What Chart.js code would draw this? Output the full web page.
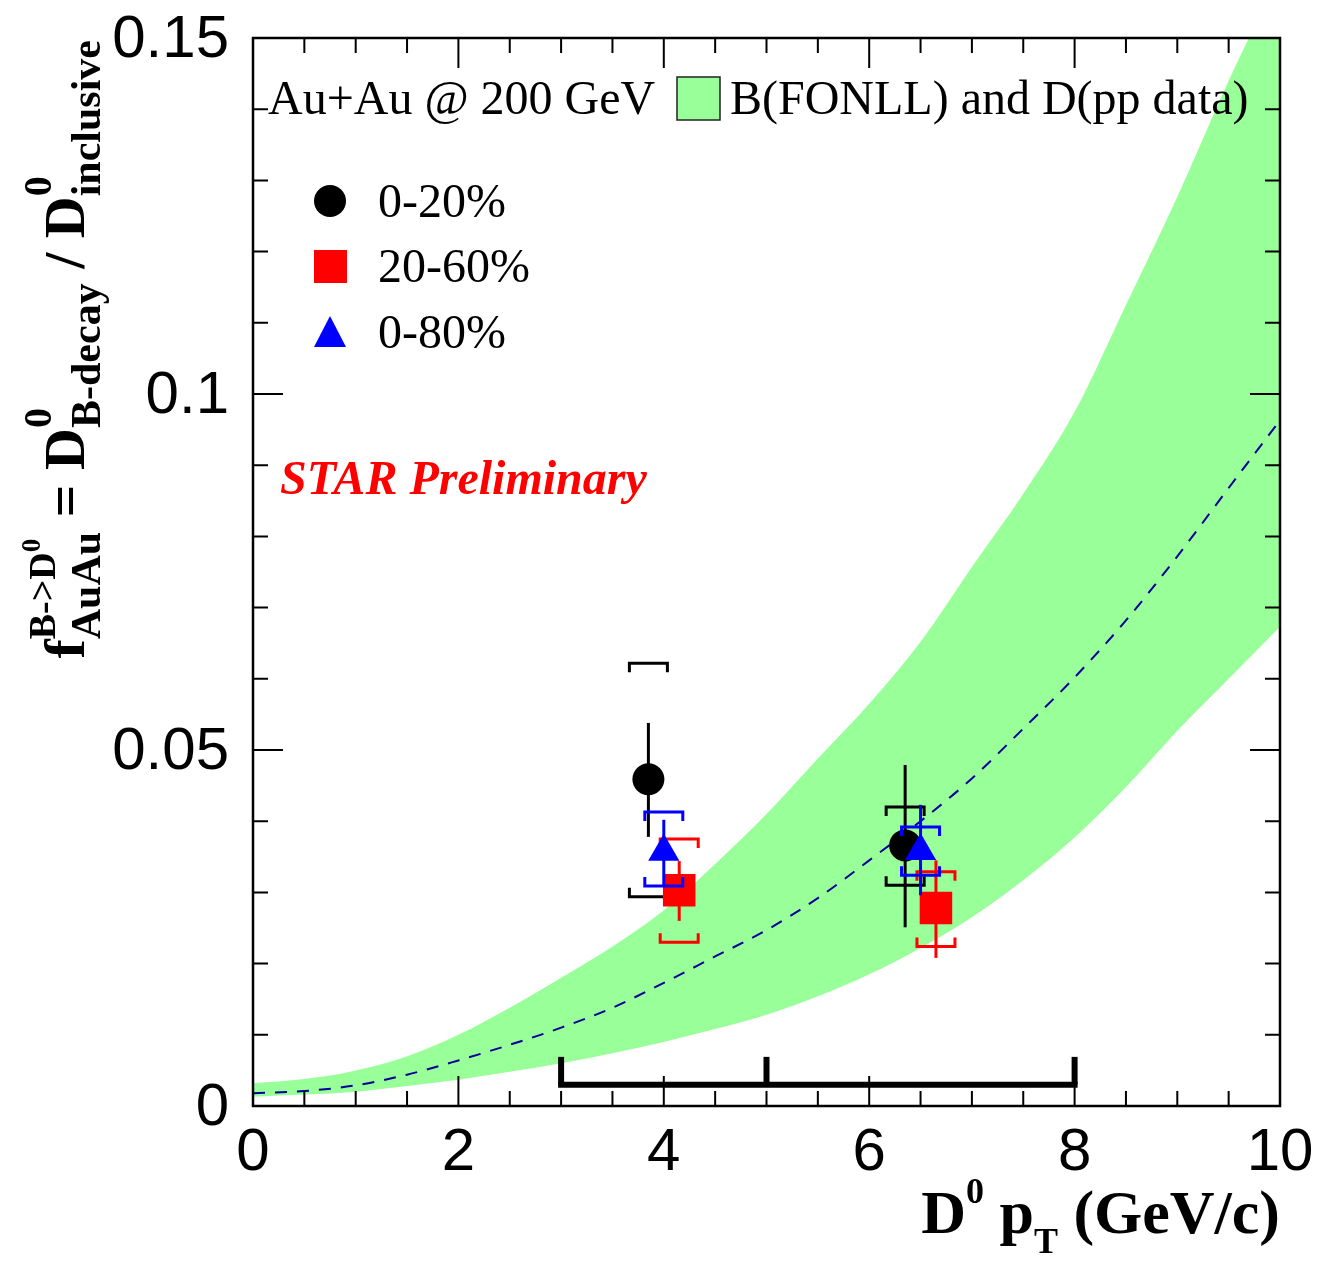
<!DOCTYPE html>
<html>
<head>
<meta charset="utf-8">
<script src="https://cdn.jsdelivr.net/npm/chart.js@4.4.1/dist/chart.umd.min.js"></script>
<style>
  html, body { margin: 0; padding: 0; background: #fff; }
  #wrap { width: 1320px; height: 1262px; }
</style>
</head>
<body>
<div id="wrap"><canvas id="chart" width="1320" height="1262"></canvas></div>
<script>
// FONLL band (B feed-down fraction)
const bandPt = [0, 0.5, 1, 1.5, 2, 2.5, 3, 3.5, 4, 4.5, 5, 5.5, 6, 6.5, 7, 7.5, 8, 8.5, 9, 9.5, 10];
const bandUpper = [0.0032, 0.0038, 0.0050, 0.0070, 0.0100, 0.0138, 0.0180, 0.0224, 0.0275, 0.0340, 0.0410, 0.0488,
  0.0565, 0.0652, 0.0757, 0.0860, 0.0975, 0.1125, 0.1277, 0.1440, 0.1590];
const bandLower = [0.0013, 0.0016, 0.0020, 0.0028, 0.0037, 0.0048, 0.0060, 0.0074, 0.0090, 0.0108, 0.0128, 0.0154,
  0.0185, 0.0222, 0.0265, 0.0317, 0.0377, 0.0448, 0.0527, 0.0600, 0.0673];
const bandCentral = [0.0018, 0.0021, 0.0029, 0.0044, 0.0064, 0.0086, 0.0110, 0.0138, 0.0173, 0.0210, 0.0247, 0.0292,
  0.0345, 0.0400, 0.0460, 0.0530, 0.0602, 0.0682, 0.0772, 0.0868, 0.0963];

// measured points
const c020X = [3.85, 6.35];
const c020Y = [0.0459, 0.0366];
const c020StatLo = [0.0378, 0.0251];
const c020StatHi = [0.0538, 0.0479];
const c020SysLo = [0.0294, 0.0310];
const c020SysHi = [0.0622, 0.0420];

const c2060X = [4.15, 6.65];
const c2060Y = [0.0303, 0.0278];
const c2060StatLo = [0.0260, 0.0208];
const c2060StatHi = [0.0344, 0.0345];
const c2060SysLo = [0.0230, 0.0224];
const c2060SysHi = [0.0375, 0.0329];

const c080X = [4.0, 6.5];
const c080Y = [0.0357, 0.0358];
const c080StatLo = [0.0310, 0.0296];
const c080StatHi = [0.0402, 0.0423];
const c080SysLo = [0.0309, 0.0324];
const c080SysHi = [0.0413, 0.0392];

// pT bins shown at the bottom
const binEdges = [3, 5, 8];
const binBarY = 0.0030;
const binTickTop = 0.0069;

const xTickLabels = [0, 2, 4, 6, 8, 10];
const yTickLabels = [0, 0.05, 0.1, 0.15];
const yTickText = ['0', '0.05', '0.1', '0.15'];

const legendLabels = ['0-20%', '20-60%', '0-80%'];

const SERIF = '"Liberation Serif", "Times New Roman", serif';
const SANS = '"Liberation Sans", Arial, sans-serif';

function toXY(xs, ys) {
  return xs.map((x, i) => ({ x: x, y: ys[i] }));
}

const errors = {
  3: { color: '#000000', x: c020X, sLo: c020StatLo, sHi: c020StatHi, yLo: c020SysLo, yHi: c020SysHi },
  4: { color: '#ff0000', x: c2060X, sLo: c2060StatLo, sHi: c2060StatHi, yLo: c2060SysLo, yHi: c2060SysHi },
  5: { color: '#0000ff', x: c080X, sLo: c080StatLo, sHi: c080StatHi, yLo: c080SysLo, yHi: c080SysHi }
};

// rich text: parts {t, s, dy, style, mark, rewind}
function runRich(ctx, parts, x, y, draw) {
  let cx = x, mark = x;
  parts.forEach(p => {
    ctx.font = (p.style || 'bold') + ' ' + p.s + 'px ' + SERIF;
    const w = ctx.measureText(p.t).width;
    if (p.rewind) {
      const end = cx;
      if (draw) ctx.fillText(p.t, mark, y + (p.dy || 0));
      cx = Math.max(end, mark + w);
      return;
    }
    if (p.mark) mark = cx;
    if (draw) ctx.fillText(p.t, cx, y + (p.dy || 0));
    cx += w;
  });
  return cx - x;
}

const errorBars = {
  id: 'errorBars',
  beforeDatasetDraw(chart, args) {
    const e = errors[args.index];
    if (!e) return;
    const ctx = chart.ctx, xs = chart.scales.x, ys = chart.scales.y;
    ctx.save();
    ctx.strokeStyle = e.color;
    ctx.lineWidth = 3;
    e.x.forEach((xv, i) => {
      const px = xs.getPixelForValue(xv);
      // statistical
      ctx.beginPath();
      ctx.moveTo(px, ys.getPixelForValue(e.sLo[i]));
      ctx.lineTo(px, ys.getPixelForValue(e.sHi[i]));
      ctx.stroke();
      // systematic brackets
      const hw = 19, leg = 9;
      const yt = ys.getPixelForValue(e.yHi[i]);
      const yb = ys.getPixelForValue(e.yLo[i]);
      ctx.beginPath();
      ctx.moveTo(px - hw, yt + leg); ctx.lineTo(px - hw, yt); ctx.lineTo(px + hw, yt); ctx.lineTo(px + hw, yt + leg);
      ctx.moveTo(px - hw, yb - leg); ctx.lineTo(px - hw, yb); ctx.lineTo(px + hw, yb); ctx.lineTo(px + hw, yb - leg);
      ctx.stroke();
    });
    ctx.restore();
  }
};

const decorations = {
  id: 'decorations',
  afterDatasetsDraw(chart) {
    const ctx = chart.ctx, xs = chart.scales.x, ys = chart.scales.y;
    const { left, right, top, bottom } = chart.chartArea;
    ctx.save();

    // bin bar
    ctx.strokeStyle = '#000';
    ctx.lineWidth = 6;
    ctx.lineCap = 'butt';
    const by = ys.getPixelForValue(binBarY);
    ctx.beginPath();
    ctx.moveTo(xs.getPixelForValue(binEdges[0]) - 3, by);
    ctx.lineTo(xs.getPixelForValue(binEdges[binEdges.length - 1]) + 3, by);
    ctx.stroke();
    binEdges.forEach(b => {
      ctx.beginPath();
      ctx.moveTo(xs.getPixelForValue(b), by);
      ctx.lineTo(xs.getPixelForValue(b), ys.getPixelForValue(binTickTop));
      ctx.stroke();
    });

    // ticks
    ctx.lineWidth = 2;
    ctx.beginPath();
    for (let i = 0; i <= 20; i++) {
      const v = i * 0.5;
      const px = xs.getPixelForValue(v);
      const len = (i % 4 === 0) ? 30 : 15;
      ctx.moveTo(px, bottom); ctx.lineTo(px, bottom - len);
      ctx.moveTo(px, top); ctx.lineTo(px, top + len);
    }
    for (let i = 0; i <= 15; i++) {
      const v = i * 0.01;
      const py = ys.getPixelForValue(v);
      const len = (i % 5 === 0) ? 30 : 15;
      ctx.moveTo(left, py); ctx.lineTo(left + len, py);
      ctx.moveTo(right, py); ctx.lineTo(right - len, py);
    }
    ctx.stroke();

    // frame
    ctx.lineWidth = 2.5;
    ctx.strokeRect(left, top, right - left, bottom - top);

    // tick labels
    ctx.fillStyle = '#000';
    ctx.font = '60px ' + SANS;
    ctx.textAlign = 'center';
    ctx.textBaseline = 'top';
    xTickLabels.forEach(v => ctx.fillText(String(v), xs.getPixelForValue(v), bottom + 17));
    ctx.textAlign = 'right';
    ctx.textBaseline = 'middle';
    yTickLabels.forEach((v, i) => ctx.fillText(yTickText[i], left - 24, ys.getPixelForValue(v) + 2));

    ctx.textAlign = 'left';
    ctx.textBaseline = 'alphabetic';

    // x title
    const xParts = [
      { t: 'D', s: 62 }, { t: '0', s: 36, dy: -30 }, { t: ' p', s: 62 }, { t: 'T', s: 36, dy: 20 },
      { t: ' (GeV/c)', s: 62 }
    ];
    const xw = runRich(ctx, xParts, 0, 0, false);
    runRich(ctx, xParts, right - xw, 1233, true);

    // y title
    const yParts = [
      { t: 'f', s: 58 },
      { t: 'B->D', s: 38, dy: -29, mark: true }, { t: '0', s: 27, dy: -44 },
      { t: 'AuAu', s: 42, dy: 16, rewind: true },
      { t: ' = ', s: 58 },
      { t: 'D', s: 58 }, { t: '0', s: 40, dy: -33, mark: true }, { t: 'B-decay', s: 42, dy: 16, rewind: true },
      { t: ' / ', s: 58 },
      { t: 'D', s: 58 }, { t: '0', s: 40, dy: -33, mark: true }, { t: 'inclusive', s: 42, dy: 16, rewind: true }
    ];
    const yw = runRich(ctx, yParts, 0, 0, false);
    ctx.save();
    ctx.translate(84, 40);
    ctx.rotate(-Math.PI / 2);
    runRich(ctx, yParts, -yw, 0, true);
    ctx.restore();

    // header legend
    ctx.font = '48px ' + SERIF;
    ctx.fillText('Au+Au @ 200 GeV', 268, 114);
    ctx.fillStyle = '#99ff99';
    ctx.fillRect(677, 77, 43, 43);
    ctx.strokeStyle = '#222';
    ctx.lineWidth = 1.5;
    ctx.strokeRect(677, 77, 43, 43);
    ctx.fillStyle = '#000';
    ctx.fillText('B(FONLL) and D(pp data)', 730, 114);

    // marker legend
    const ly = [201, 266, 332];
    ctx.fillStyle = '#000';
    ctx.beginPath(); ctx.arc(330, ly[0], 16, 0, Math.PI * 2); ctx.fill();
    ctx.fillStyle = '#ff0000';
    ctx.fillRect(314, ly[1] - 16, 33, 33);
    ctx.fillStyle = '#0000ff';
    ctx.beginPath();
    ctx.moveTo(330, ly[2] - 16); ctx.lineTo(346, ly[2] + 15); ctx.lineTo(314, ly[2] + 15); ctx.closePath();
    ctx.fill();
    ctx.fillStyle = '#000';
    ctx.font = '48px ' + SERIF;
    legendLabels.forEach((l, i) => ctx.fillText(l, 378, ly[i] + 16));

    // STAR Preliminary
    ctx.fillStyle = '#ff0000';
    ctx.font = 'italic bold 48px ' + SERIF;
    ctx.fillText('STAR Preliminary', 280, 494);

    ctx.restore();
  }
};

new Chart(document.getElementById('chart'), {
  type: 'scatter',
  data: {
    datasets: [
      {
        label: 'upper', type: 'line', data: toXY(bandPt, bandUpper), order: 6,
        borderWidth: 0, pointRadius: 0, backgroundColor: '#99ff99', fill: '+1', cubicInterpolationMode: 'monotone'
      },
      {
        label: 'lower', type: 'line', data: toXY(bandPt, bandLower), order: 5,
        borderWidth: 0, pointRadius: 0, backgroundColor: '#99ff99', fill: false, cubicInterpolationMode: 'monotone'
      },
      {
        label: 'central', type: 'line', data: toXY(bandPt, bandCentral), order: 4,
        borderColor: '#000099', borderWidth: 2, borderDash: [12, 10], pointRadius: 0, fill: false,
        cubicInterpolationMode: 'monotone'
      },
      {
        label: legendLabels[0], data: toXY(c020X, c020Y), order: 3,
        pointStyle: 'circle', pointRadius: 16, backgroundColor: '#000', borderColor: '#000', borderWidth: 0
      },
      {
        label: legendLabels[1], data: toXY(c2060X, c2060Y), order: 2,
        pointStyle: 'rect', pointRadius: 23, backgroundColor: '#ff0000', borderColor: '#ff0000', borderWidth: 0
      },
      {
        label: legendLabels[2], data: toXY(c080X, c080Y), order: 1,
        pointStyle: 'triangle', pointRadius: 18, backgroundColor: '#0000ff', borderColor: '#0000ff', borderWidth: 0
      }
    ]
  },
  options: {
    responsive: false,
    animation: false,
    devicePixelRatio: 1,
    layout: { padding: { left: 253, right: 40, top: 38, bottom: 156 } },
    scales: {
      x: { type: 'linear', min: 0, max: 10, display: false },
      y: { type: 'linear', min: 0, max: 0.15, display: false }
    },
    plugins: {
      legend: { display: false },
      tooltip: { enabled: false }
    }
  },
  plugins: [errorBars, decorations]
});
</script>
</body>
</html>
